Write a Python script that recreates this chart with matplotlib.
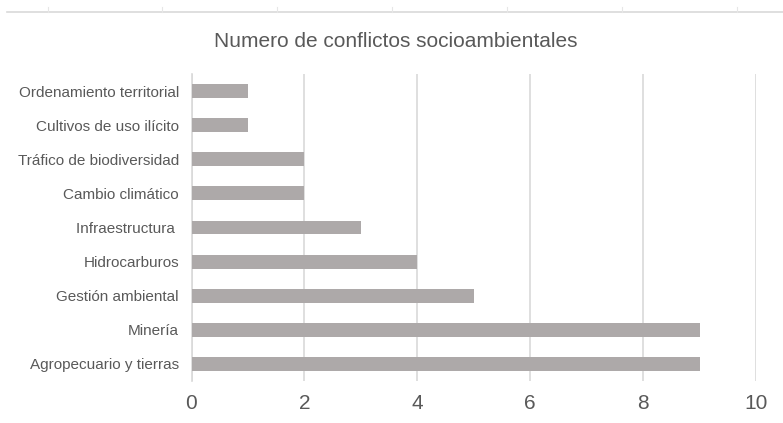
import matplotlib
matplotlib.use("Agg")
import matplotlib.pyplot as plt
from matplotlib.lines import Line2D

categories = ["Agropecuario y tierras", "Minería", "Gestión ambiental", "Hidrocarburos",
              "Infraestructura ", "Cambio climático", "Tráfico de biodiversidad",
              "Cultivos de uso ilícito", "Ordenamiento territorial"]
values = [9, 9, 5, 4, 3, 2, 2, 1, 1]
xticks = [0, 2, 4, 6, 8, 10]
title = "Numero de conflictos socioambientales"

plt.rcParams['font.family'] = ['Liberation Sans', 'DejaVu Sans']
fig = plt.figure(figsize=(7.83, 4.23), dpi=100)
ax = fig.add_axes([191.5/783, 1 - 381/423, (756 - 191.5)/783, (381 - 74)/423])

ax.barh(range(len(categories)), values, height=0.41, color="#ADA9A9", zorder=3)
ax.set_xlim(0, 10)
ax.set_ylim(-0.5, len(categories) - 0.5)
ax.set_xticks(xticks)
ax.set_xticklabels([str(t) for t in xticks], fontsize=15, color="#595959")
ax.set_yticks(range(len(categories)))
ax.set_yticklabels(categories, fontsize=11, color="#595959")
ax.tick_params(axis='both', length=0)
ax.tick_params(axis='x', pad=9)
ax.tick_params(axis='y', pad=9)
ax.grid(axis='x', color="#D9D9D9", linewidth=1.2, zorder=0)
for s in ["top", "right", "bottom"]:
    ax.spines[s].set_visible(False)
ax.spines["left"].set_color("#D9D9D9")
ax.spines["left"].set_linewidth(1.2)

fig.text(396/783, 1 - 47/423, title, ha="center", va="baseline", fontsize=15, color="#595959")

# faint spreadsheet line at the top
fig.add_artist(Line2D([7/783, 1], [1 - 12/423, 1 - 12/423], color="#D9D9D9", linewidth=1.2))
for px in [48, 162, 277, 392, 507, 622, 737]:
    fig.add_artist(Line2D([px/783, px/783], [1 - 12/423, 1 - 7/423], color="#E6E6E6", linewidth=0.8))

fig.savefig("out.png", dpi=100)
